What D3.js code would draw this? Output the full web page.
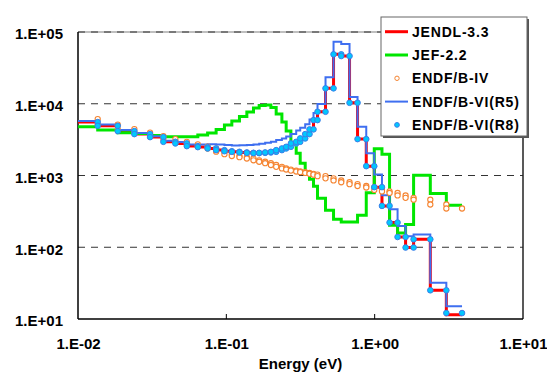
<!DOCTYPE html>
<html>
<head>
<meta charset="utf-8">
<script src="https://cdn.jsdelivr.net/npm/d3@7"></script>
<style>
  body { margin: 0; background: #fff; }
  svg { display: block; font-family: "Liberation Sans", Arial, sans-serif; }
</style>
</head>
<body>
<svg id="chart"></svg>
<script>
// group boundaries in eV (44 edges -> 43 groups)
const groupBounds = [0.01, 0.01358, 0.01853, 0.02399, 0.03061, 0.03764, 0.04535, 0.05415, 0.06423, 0.07478,
  0.08535, 0.0971, 0.1089, 0.1226, 0.1375, 0.1524, 0.1665, 0.1827, 0.1997, 0.2168,
  0.2369, 0.2532, 0.2724, 0.2958, 0.3148, 0.3402, 0.3637, 0.387, 0.4118, 0.4663,
  0.5281, 0.5952, 0.677, 0.7666, 0.8776, 0.994, 1.12, 1.26, 1.427, 1.616,
  1.83, 2.372, 3.042, 3.882];

const jendl33 = [5550, 4927, 4156, 3774, 3428, 2947, 2800, 2567, 2486, 2384,
  2258, 2180, 2138, 2097, 2070, 2050, 2070, 2097, 2138, 2258,
  2384, 2510, 2800, 2947, 3288, 3774, 4389, 5918, 7727, 16390,
  48860, 46240, 10316, 3214, 1350, 688, 377, 221, 139, 99,
  129, 25.1, 11.5];

const jef22 = [4780, 4292, 3936, 3836, 3596, 3460, 3460, 3480, 3655, 3898,
  4361, 5039, 5731, 6622, 7650, 8700, 9430, 9580, 8844, 7177,
  5550, 4156, 2827, 2050, 1487, 1114, 889, 710, 483, 328,
  246, 225, 225, 280, 573, 2368, 1985, 203, 158, 207,
  1011, 562, 386];

const endfb4 = [6110, 5121, 4432, 3960, 3538, 3213, 2947, 2713, 2530, 2370,
  2150, 1980, 1870, 1800, 1725, 1630, 1555, 1485, 1400, 1320,
  1253, 1210, 1170, 1137, 1114, 1086, 1055, 1028, 980, 912,
  853, 805, 758, 714, 680, 630, 600, 571, 527, 488,
  460, 394, 347];

const endfb6r5 = [5731, 5121, 4292, 3898, 3538, 3062, 2923, 2694, 2713, 2737,
  2694, 2651, 2625, 2630, 2651, 2710, 2780, 2870, 2960, 3113,
  3287, 3500, 3774, 4223, 4640, 5200, 6030, 7430, 9900, 23500,
  73200, 68000, 12400, 4775, 2050, 1034, 532, 339, 198, 142.5,
  150.4, 32, 15];

const endfb6r8 = [5550, 4927, 4156, 3774, 3428, 2947, 2800, 2567, 2486, 2384,
  2258, 2180, 2138, 2097, 2070, 2050, 2070, 2097, 2138, 2258,
  2384, 2510, 2800, 2947, 3288, 3774, 4389, 5918, 7727, 16390,
  48860, 46240, 10316, 3214, 1350, 688, 377, 221, 139, 99,
  129, 25.1, 12.1];

const xTicks = [0.01, 0.1, 1, 10];
const xTickLabels = ["1.E-02", "1.E-01", "1.E+00", "1.E+01"];
const yTicks = [10, 100, 1000, 10000, 100000];
const yTickLabels = ["1.E+01", "1.E+02", "1.E+03", "1.E+04", "1.E+05"];
const legendNames = ["JENDL-3.3", "JEF-2.2", "ENDF/B-IV", "ENDF/B-VI(R5)", "ENDF/B-VI(R8)"];

const W = 547, H = 374;
const margin = {top: 32, right: 24, bottom: 55, left: 78};
const width = W - margin.left - margin.right;
const height = H - margin.top - margin.bottom;

const svg = d3.select("#chart").attr("width", W).attr("height", H);

const x = d3.scaleLog().domain([0.01, 10]).range([0, width]);
const y = d3.scaleLog().domain([10, 100000]).range([height, 0]);

const g = svg.append("g").attr("transform", `translate(${margin.left},${margin.top})`);

svg.append("defs").append("clipPath").attr("id", "plot")
  .append("rect").attr("width", width).attr("height", height);

// grid lines
g.append("line")
  .attr("x1", 0).attr("x2", width).attr("y1", y(100000)).attr("y2", y(100000))
  .attr("stroke", "#aaa").attr("stroke-width", 1.5);
g.selectAll(".grid")
  .data(yTicks.slice(1))
  .join("line")
  .attr("class", "grid")
  .attr("x1", 0).attr("x2", width)
  .attr("y1", d => y(d)).attr("y2", d => y(d))
  .attr("stroke", "#333").attr("stroke-width", 1)
  .attr("stroke-dasharray", "7,6");

// frame
g.append("line").attr("x1", width).attr("x2", width).attr("y1", 0).attr("y2", height)
  .attr("stroke", "#222").attr("stroke-width", 1.5);
g.append("line").attr("x1", 0).attr("x2", 0).attr("y1", 0).attr("y2", height)
  .attr("stroke", "#000").attr("stroke-width", 1.5);
g.append("line").attr("x1", 0).attr("x2", width).attr("y1", height).attr("y2", height)
  .attr("stroke", "#000").attr("stroke-width", 1.5);
g.selectAll(".xtick")
  .data(xTicks.slice(1, 3))
  .join("line")
  .attr("class", "xtick")
  .attr("x1", d => x(d)).attr("x2", d => x(d))
  .attr("y1", height).attr("y2", height - 5)
  .attr("stroke", "#000");

// axes labels
const yAxis = g.append("g")
  .call(d3.axisLeft(y).tickValues(yTicks).tickFormat((d, i) => yTickLabels[i]).tickSize(0).tickPadding(15));
yAxis.select(".domain").remove();
yAxis.selectAll("text")
  .attr("dy", "0.45em")
  .style("font-size", "15px").style("font-weight", "bold").style("font-family", "Liberation Sans, Arial, sans-serif")
  .attr("fill", "#000");

const xAxis = g.append("g").attr("transform", `translate(0,${height})`)
  .call(d3.axisBottom(x).tickValues(xTicks).tickFormat((d, i) => xTickLabels[i]).tickSize(0).tickPadding(19));
xAxis.select(".domain").remove();
xAxis.selectAll("text")
  .style("font-size", "15px").style("font-weight", "bold").style("font-family", "Liberation Sans, Arial, sans-serif")
  .attr("fill", "#000");

svg.append("text")
  .attr("x", margin.left + width / 2)
  .attr("y", 369)
  .attr("text-anchor", "middle")
  .style("font-size", "15px").style("font-weight", "bold")
  .text("Energy (eV)");

// step data
function steps(vals) {
  const pts = [];
  vals.forEach((v, i) => {
    pts.push([groupBounds[i], v]);
    pts.push([groupBounds[i + 1], v]);
  });
  return pts;
}
function markers(vals) {
  // points at both ends of each group, none on the first edge
  return steps(vals).filter((p, i) => i > 0);
}

const line = d3.line().x(d => x(d[0])).y(d => y(d[1]));
const plot = g.append("g").attr("clip-path", "url(#plot)");

plot.append("path").datum(steps(jendl33))
  .attr("d", line).attr("fill", "none").attr("stroke", "#ff0000").attr("stroke-width", 3);
plot.append("path").datum(steps(jef22))
  .attr("d", line).attr("fill", "none").attr("stroke", "#00e600").attr("stroke-width", 3);
plot.append("path").datum(steps(endfb6r5))
  .attr("d", line).attr("fill", "none").attr("stroke", "#3f6ff0").attr("stroke-width", 2);

plot.selectAll(".b4")
  .data(markers(endfb4))
  .join("circle")
  .attr("class", "b4")
  .attr("cx", d => x(d[0])).attr("cy", d => y(d[1]))
  .attr("r", 2.6)
  .attr("fill", "#fff").attr("stroke", "#f58431").attr("stroke-width", 1.1);

plot.selectAll(".r8")
  .data(markers(endfb6r8))
  .join("circle")
  .attr("class", "r8")
  .attr("cx", d => x(d[0])).attr("cy", d => y(d[1]))
  .attr("r", 2.8)
  .attr("fill", "#00c8ff").attr("stroke", "#3a7ee8").attr("stroke-width", 1);

// legend
const legend = svg.append("g").attr("transform", "translate(381,17)");
legend.append("rect").attr("x", 2).attr("y", 2).attr("width", 146).attr("height", 119).attr("fill", "#555");
legend.append("rect").attr("width", 146).attr("height", 119)
  .attr("fill", "#fff").attr("stroke", "#666").attr("stroke-width", 1);

const legendStyle = [
  {type: "line", color: "#ff0000", w: 3},
  {type: "line", color: "#00e600", w: 3},
  {type: "open", color: "#f58431"},
  {type: "line", color: "#3f6ff0", w: 2},
  {type: "dot", color: "#3a7ee8"}
];

const item = legend.selectAll(".item")
  .data(legendNames)
  .join("g")
  .attr("class", "item")
  .attr("transform", (d, i) => `translate(0,${14.7 + i * 23.3})`);

item.each(function(d, i) {
  const s = legendStyle[i];
  const el = d3.select(this);
  if (s.type === "line") {
    el.append("line").attr("x1", 4).attr("x2", 27).attr("y1", 0).attr("y2", 0)
      .attr("stroke", s.color).attr("stroke-width", s.w);
  } else if (s.type === "open") {
    el.append("circle").attr("cx", 16).attr("cy", 0).attr("r", 2.2)
      .attr("fill", "#fff").attr("stroke", s.color);
  } else {
    el.append("circle").attr("cx", 16).attr("cy", 0).attr("r", 2.4)
      .attr("fill", "#00c8ff").attr("stroke", s.color);
  }
});

item.append("text")
  .attr("x", 31).attr("y", 0).attr("dy", "0.36em")
  .style("font-size", "14px").style("font-weight", "bold").style("letter-spacing", "0.8px")
  .text(d => d);
</script>
</body>
</html>
